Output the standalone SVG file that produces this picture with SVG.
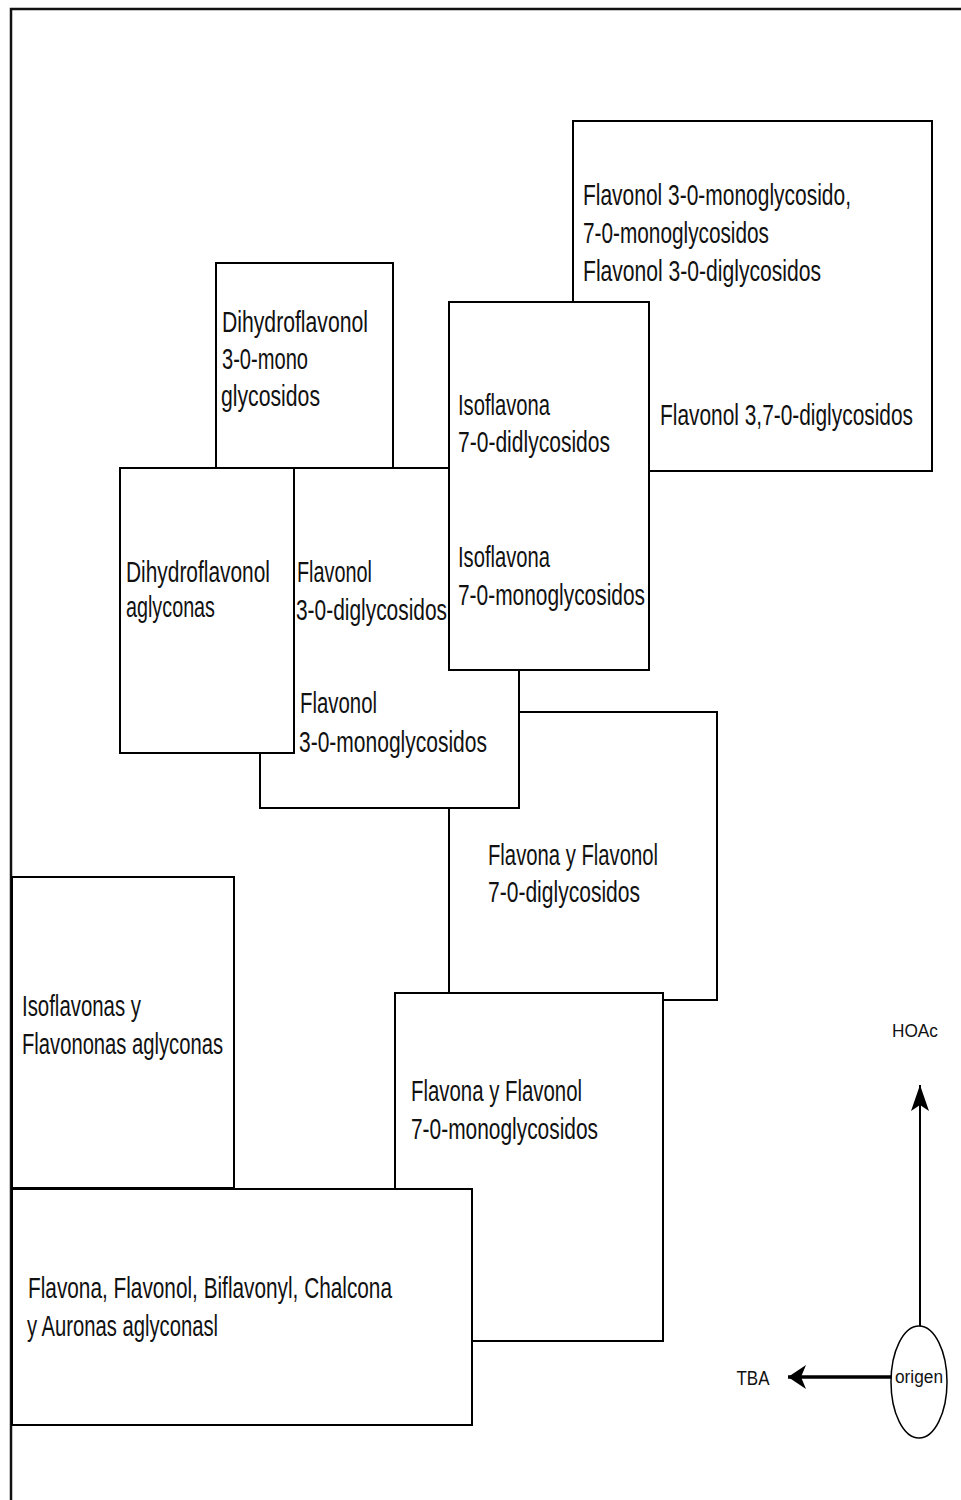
<svg xmlns="http://www.w3.org/2000/svg" width="961" height="1500" viewBox="0 0 961 1500">
<style>
.box{fill:#fff;stroke:#000;stroke-width:2}
.t{font-family:"Liberation Sans",Arial,sans-serif;font-size:20px;fill:#111}
.s{font-family:"Liberation Sans",Arial,sans-serif;fill:#111}
.frame{fill:none;stroke:#111;stroke-width:2.5}
</style>
<defs>
<marker id="ahv" markerWidth="28" markerHeight="20" refX="27" refY="10" orient="auto" markerUnits="userSpaceOnUse">
<path d="M27,10 L1,1 L7,10 L1,19 Z" fill="#000"/>
</marker>
<marker id="ahh" markerWidth="20" markerHeight="26" refX="19" refY="13" orient="auto" markerUnits="userSpaceOnUse">
<path d="M19,13 L1,1 L6,13 L1,25 Z" fill="#000"/>
</marker>
</defs>
<rect width="961" height="1500" fill="#fff"/>
<path class="frame" d="M11,1500 V9 H961"/>

<g id="n1">
<rect class="box" x="573" y="121" width="359" height="350"/>
<text class="t" transform="translate(583,205) scale(1,1.45)" textLength="268" lengthAdjust="spacingAndGlyphs">Flavonol 3-0-monoglycosido,</text>
<text class="t" transform="translate(583,243) scale(1,1.45)" textLength="186" lengthAdjust="spacingAndGlyphs">7-0-monoglycosidos</text>
<text class="t" transform="translate(583,281) scale(1,1.45)" textLength="238" lengthAdjust="spacingAndGlyphs">Flavonol 3-0-diglycosidos</text>
<text class="t" transform="translate(660,425) scale(1,1.45)" textLength="253" lengthAdjust="spacingAndGlyphs">Flavonol 3,7-0-diglycosidos</text>
</g>

<g id="n2">
<rect class="box" x="216" y="263" width="177" height="205"/>
<text class="t" transform="translate(222,332) scale(1,1.45)" textLength="146" lengthAdjust="spacingAndGlyphs">Dihydroflavonol</text>
<text class="t" transform="translate(222,369) scale(1,1.45)" textLength="86" lengthAdjust="spacingAndGlyphs">3-0-mono</text>
<text class="t" transform="translate(221,406) scale(1,1.45)" textLength="99" lengthAdjust="spacingAndGlyphs">glycosidos</text>
</g>

<g id="n6">
<rect class="box" x="449" y="712" width="268" height="288"/>
<text class="t" transform="translate(488,865) scale(1,1.45)" textLength="170" lengthAdjust="spacingAndGlyphs">Flavona y Flavonol</text>
<text class="t" transform="translate(488,902) scale(1,1.45)" textLength="152" lengthAdjust="spacingAndGlyphs">7-0-diglycosidos</text>
</g>

<g id="n5">
<rect class="box" x="260" y="468" width="259" height="340"/>
<text class="t" transform="translate(297,582) scale(1,1.45)" textLength="75" lengthAdjust="spacingAndGlyphs">Flavonol</text>
<text class="t" transform="translate(296,620) scale(1,1.45)" textLength="151" lengthAdjust="spacingAndGlyphs">3-0-diglycosidos</text>
<text class="t" transform="translate(300,713) scale(1,1.45)" textLength="77" lengthAdjust="spacingAndGlyphs">Flavonol</text>
<text class="t" transform="translate(299,752) scale(1,1.45)" textLength="188" lengthAdjust="spacingAndGlyphs">3-0-monoglycosidos</text>
</g>

<g id="n4">
<rect class="box" x="120" y="468" width="174" height="285"/>
<text class="t" transform="translate(126,582) scale(1,1.45)" textLength="144" lengthAdjust="spacingAndGlyphs">Dihydroflavonol</text>
<text class="t" transform="translate(126,617) scale(1,1.45)" textLength="89" lengthAdjust="spacingAndGlyphs">aglyconas</text>
</g>

<g id="n3">
<rect class="box" x="449" y="302" width="200" height="368"/>
<text class="t" transform="translate(458,415) scale(1,1.45)" textLength="92" lengthAdjust="spacingAndGlyphs">Isoflavona</text>
<text class="t" transform="translate(458,452) scale(1,1.45)" textLength="152" lengthAdjust="spacingAndGlyphs">7-0-didlycosidos</text>
<text class="t" transform="translate(458,567) scale(1,1.45)" textLength="92" lengthAdjust="spacingAndGlyphs">Isoflavona</text>
<text class="t" transform="translate(458,605) scale(1,1.45)" textLength="187" lengthAdjust="spacingAndGlyphs">7-0-monoglycosidos</text>
</g>

<g id="n7">
<rect class="box" x="395" y="993" width="268" height="348"/>
<text class="t" transform="translate(411,1101) scale(1,1.45)" textLength="171" lengthAdjust="spacingAndGlyphs">Flavona y Flavonol</text>
<text class="t" transform="translate(411,1139) scale(1,1.45)" textLength="187" lengthAdjust="spacingAndGlyphs">7-0-monoglycosidos</text>
</g>

<g id="n8">
<rect class="box" x="12" y="877" width="222" height="311"/>
<text class="t" transform="translate(22,1016) scale(1,1.45)" textLength="119" lengthAdjust="spacingAndGlyphs">Isoflavonas y</text>
<text class="t" transform="translate(22,1054) scale(1,1.45)" textLength="201" lengthAdjust="spacingAndGlyphs">Flavononas aglyconas</text>
</g>

<g id="n9">
<rect class="box" x="12" y="1189" width="460" height="236"/>
<text class="t" transform="translate(28,1298) scale(1,1.45)" textLength="364" lengthAdjust="spacingAndGlyphs">Flavona, Flavonol, Biflavonyl, Chalcona</text>
<text class="t" transform="translate(27,1336) scale(1,1.45)" textLength="191" lengthAdjust="spacingAndGlyphs">y Auronas aglyconasl</text>
</g>

<g id="origen">
<ellipse cx="919" cy="1382" rx="28" ry="56" fill="#fff" stroke="#000" stroke-width="1.5"/>
<text class="s" x="919" y="1383" font-size="18" text-anchor="middle" textLength="48" lengthAdjust="spacingAndGlyphs">origen</text>
</g>
<g id="HOAc"><text class="s" x="915" y="1037" font-size="18" text-anchor="middle" textLength="46" lengthAdjust="spacingAndGlyphs">HOAc</text></g>
<g id="TBA"><text class="s" x="753" y="1385" font-size="21" text-anchor="middle" textLength="33" lengthAdjust="spacingAndGlyphs">TBA</text></g>

<g id="connectors" stroke="#000" fill="none">
<line x1="920" y1="1326" x2="920" y2="1085" stroke-width="2" marker-end="url(#ahv)"/>
<line x1="891" y1="1377" x2="788" y2="1377" stroke-width="3.5" marker-end="url(#ahh)"/>
</g>
</svg>
